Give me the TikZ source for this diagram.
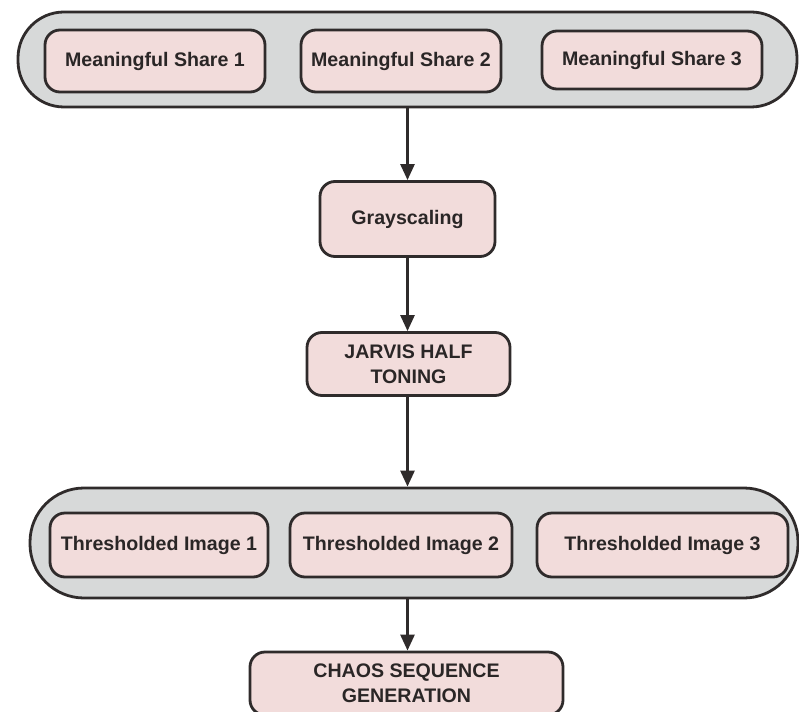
\documentclass[tikz,border=0pt]{standalone}
\usepackage{fontspec}
\setmainfont{Liberation Sans}
\usepackage{xcolor}
\usetikzlibrary{arrows.meta}

\definecolor{edgegray}{HTML}{2F2B2B}
\definecolor{groupgray}{HTML}{D7D9D9}
\definecolor{boxpink}{HTML}{F2DCDB}
\definecolor{textgray}{HTML}{2A2626}

\begin{document}
\begin{tikzpicture}[x=1pt,y=-1pt,>={Triangle[length=16pt,width=14pt]},
    group/.style={draw=edgegray,fill=groupgray,line width=2.8pt,
        rounded corners=46pt,inner sep=0pt},
    stepbox/.style={draw=edgegray,fill=boxpink,line width=2.8pt,
        rounded corners=15pt,inner sep=0pt,align=center,text=textgray,
        font=\fontsize{19.6}{25}\selectfont\bfseries},
    flow/.style={->,line width=2.6pt,draw=edgegray}]
    \useasboundingbox (0,0) rectangle (799,711);
    \clip (0,0) rectangle (799,711);

    % Top group: the three meaningful shares.
    \node[group,minimum width=779pt,minimum height=95pt] (shares) at (407.5,59.5) {};
    \node[stepbox,minimum width=220pt,minimum height=62pt] (share1) at (155,61) {Meaningful Share 1};
    \node[stepbox,minimum width=200pt,minimum height=62pt] (share2) at (401,61) {Meaningful Share 2};
    \node[stepbox,minimum width=220pt,minimum height=58pt] (share3) at (652,60) {Meaningful Share 3};

    % Middle steps
    \node[stepbox,minimum width=175pt,minimum height=75pt] (gray) at (407.5,219) {Grayscaling};
    \node[stepbox,minimum width=203pt,minimum height=63pt] (jarvis) at (408.5,364)
        {JARVIS HALF\\TONING};

    % Bottom group: the thresholded images.
    \node[group,minimum width=768pt,minimum height=110pt,rounded corners=54pt] (thresh) at (414,543) {};
    \node[stepbox,minimum width=218pt,minimum height=64pt] (thr1) at (159,545) {Thresholded Image 1};
    \node[stepbox,minimum width=222pt,minimum height=64pt] (thr2) at (401,545) {Thresholded Image 2};
    \node[stepbox,minimum width=251pt,minimum height=64pt] (thr3) at (662.5,545) {Thresholded Image 3};

    \node[stepbox,minimum width=313pt,minimum height=63pt] (chaos) at (406.5,683.5)
        {CHAOS SEQUENCE\\GENERATION};

    \draw[flow] (shares.south) -- (gray.north);
    \draw[flow] (gray.south) -- (gray.south |- jarvis.north);
    \draw[flow] (gray.south |- jarvis.south) -- (gray.south |- thresh.north);
    \draw[flow] (gray.south |- thresh.south) -- (gray.south |- chaos.north);
\end{tikzpicture}
\end{document}
